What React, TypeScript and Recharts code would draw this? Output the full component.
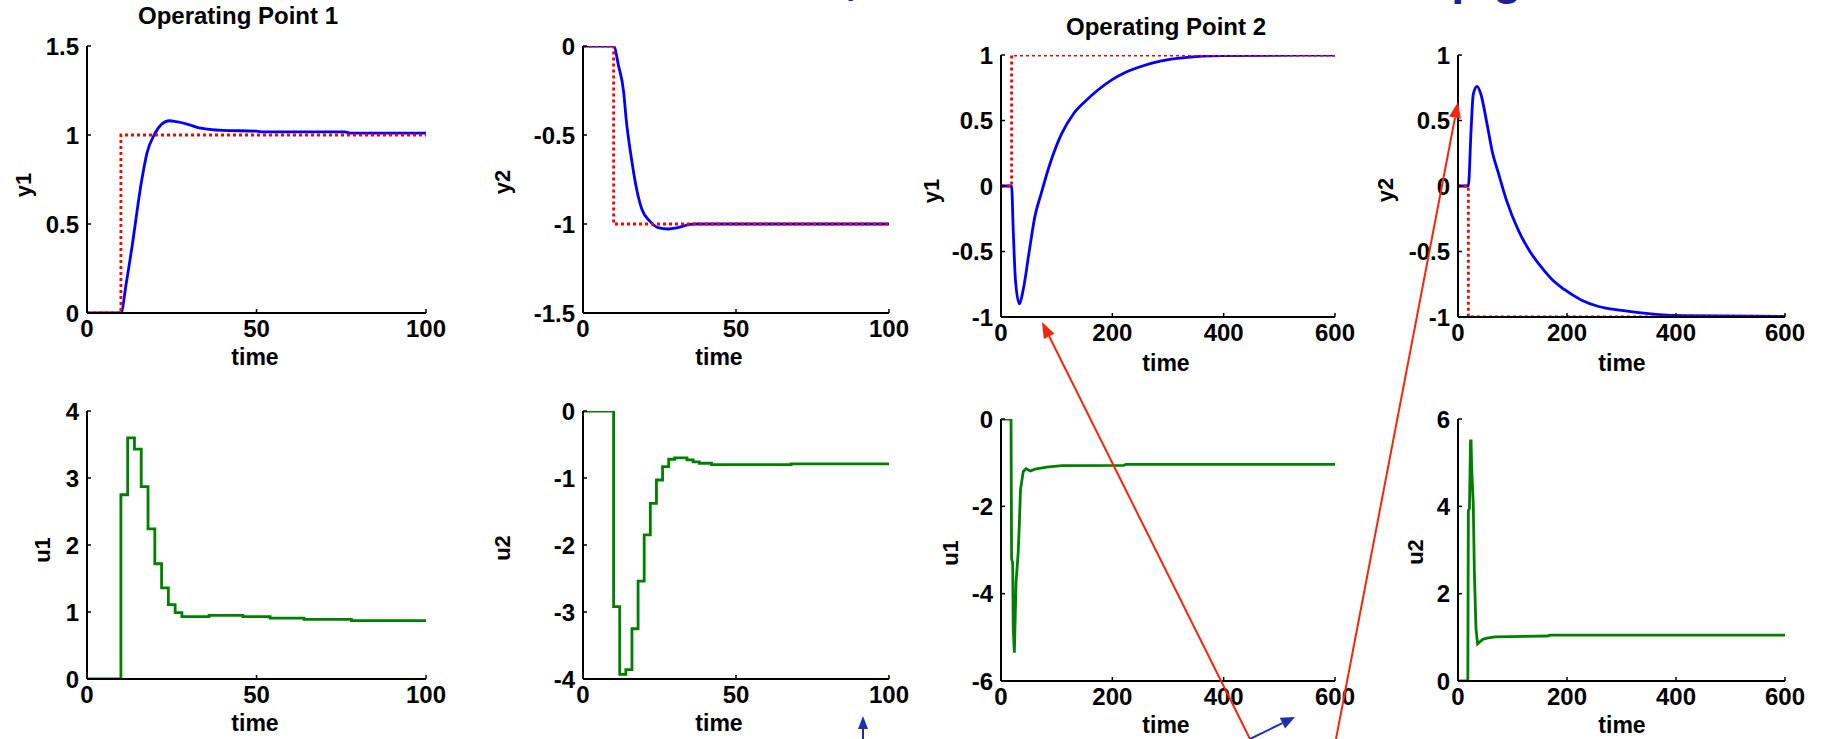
import { LineChart, Line, XAxis, YAxis } from "recharts";

const FONT = "'Liberation Sans', Arial, Helvetica, sans-serif";
const BLUE = "#0000ff";
const RED = "#ff0000";
const GREEN = "#007f00";

// ---- Operating Point 1 (time 0..100)
const op1Y1Time = [0, 10, 11.6, 13.3, 16, 17.7, 19.8, 22, 24.3, 26.3, 29.8, 33, 40, 50, 52, 76, 78, 100];
const op1Y1 = [0, 0, 0.17, 0.375, 0.73, 0.9, 1.0, 1.06, 1.08, 1.075, 1.06, 1.04, 1.026, 1.022, 1.017, 1.017, 1.01, 1.01];
const op1Y2Time = [0, 10, 11.6, 13.3, 14.1, 15.9, 17.6, 19.3, 21.9, 24.5, 27.9, 30.5, 33, 36.5, 100];
const op1Y2 = [0, 0, -0.11, -0.26, -0.41, -0.64, -0.81, -0.92, -0.985, -1.02, -1.028, -1.022, -1.01, -1.0, -1.0];
const op1RefTime = [0, 10, 100];
const op1Ref1 = [0, 1, 1];
const op1Ref2 = [0, -1, -1];
const op1U1Time = [0, 10, 12, 14, 16, 18, 20, 22, 24, 26, 28, 36, 46, 54, 64, 78, 100];
const op1U1 = [0, 2.75, 3.6, 3.43, 2.87, 2.24, 1.72, 1.36, 1.11, 0.99, 0.93, 0.95, 0.93, 0.91, 0.89, 0.87, 0.87];
const op1U2Time = [0, 10, 12, 14, 16, 18, 20, 22, 24, 26, 28, 30, 34, 36, 38, 42, 68, 100];
const op1U2 = [0, -2.92, -3.93, -3.86, -3.25, -2.54, -1.85, -1.38, -1.03, -0.83, -0.72, -0.7, -0.73, -0.76, -0.78, -0.8, -0.79, -0.79];

// ---- Operating Point 2 (time 0..600)
const op2Y1Time = [0, 19, 22, 26, 33, 40, 51, 61, 72, 88, 109, 130, 151, 172, 199, 225, 257, 288, 330, 399, 600];
const op2Y1 = [0, 0, -0.34, -0.72, -0.9, -0.79, -0.49, -0.23, -0.06, 0.17, 0.4, 0.55, 0.645, 0.725, 0.81, 0.87, 0.92, 0.955, 0.98, 0.995, 1.0];
const op2Y2Time = [0, 19, 24, 28, 35, 42, 53, 63, 74, 89, 111, 132, 153, 174, 195, 226, 258, 300, 363, 416, 600];
const op2Y2 = [0, 0, 0.43, 0.7, 0.76, 0.7, 0.48, 0.26, 0.1, -0.11, -0.34, -0.5, -0.62, -0.72, -0.79, -0.87, -0.92, -0.95, -0.98, -0.99, -0.995];
const op2RefTime = [0, 19, 600];
const op2Ref1 = [0, 1, 1];
const op2Ref2 = [0, -1, -1];
const op2U1Time = [0, 18, 19, 21, 22, 24, 27, 31, 33, 35, 40, 45, 53, 61, 82, 109, 220, 225, 600];
const op2U1 = [0, 0, -3.2, -3.3, -4.8, -5.35, -3.75, -3.03, -2.38, -1.62, -1.2, -1.14, -1.19, -1.15, -1.1, -1.07, -1.06, -1.04, -1.04];
const op2U2Time = [0, 18, 19, 21, 23, 24, 25, 28, 30, 33, 36, 45, 53, 68, 163, 170, 600];
const op2U2 = [0, 0, 3.9, 3.95, 5.5, 5.5, 4.9, 4.05, 2.5, 1.2, 0.85, 0.95, 0.98, 1.01, 1.03, 1.05, 1.05];

const zip = (t: number[], v: number[]) => t.map((x, i) => ({ t: x, v: v[i] }));

// plot boxes: left, top, width, height (page pixels)
const PL = 80, PT = 14, PR = 40, PB = 44;

const panels = [
  { box: [87, 46, 339, 267], xMax: 100, xTicks: [0, 50, 100], yDomain: [0, 1.5], yTicks: [0, 0.5, 1, 1.5],
    series: [{ d: zip(op1Y1Time, op1Y1), c: BLUE, smooth: true }, { d: zip(op1RefTime, op1Ref1), c: RED, step: true, dot: true }] },
  { box: [583, 46, 306, 267], xMax: 100, xTicks: [0, 50, 100], yDomain: [-1.5, 0], yTicks: [-1.5, -1, -0.5, 0],
    series: [{ d: zip(op1Y2Time, op1Y2), c: BLUE, smooth: true }, { d: zip(op1RefTime, op1Ref2), c: RED, step: true, dot: true }] },
  { box: [1001, 55, 334, 262], xMax: 600, xTicks: [0, 200, 400, 600], yDomain: [-1, 1], yTicks: [-1, -0.5, 0, 0.5, 1],
    series: [{ d: zip(op2Y1Time, op2Y1), c: BLUE, smooth: true }, { d: zip(op2RefTime, op2Ref1), c: RED, step: true, dot: true }] },
  { box: [1458, 55, 327, 262], xMax: 600, xTicks: [0, 200, 400, 600], yDomain: [-1, 1], yTicks: [-1, -0.5, 0, 0.5, 1],
    series: [{ d: zip(op2Y2Time, op2Y2), c: BLUE, smooth: true }, { d: zip(op2RefTime, op2Ref2), c: RED, step: true, dot: true }] },
  { box: [87, 411, 339, 268], xMax: 100, xTicks: [0, 50, 100], yDomain: [0, 4], yTicks: [0, 1, 2, 3, 4],
    series: [{ d: zip(op1U1Time, op1U1), c: GREEN, step: true }] },
  { box: [583, 411, 306, 268], xMax: 100, xTicks: [0, 50, 100], yDomain: [-4, 0], yTicks: [-4, -3, -2, -1, 0],
    series: [{ d: zip(op1U2Time, op1U2), c: GREEN, step: true }] },
  { box: [1001, 419, 334, 262], xMax: 600, xTicks: [0, 200, 400, 600], yDomain: [-6, 0], yTicks: [-6, -4, -2, 0],
    series: [{ d: zip(op2U1Time, op2U1), c: GREEN }] },
  { box: [1458, 419, 327, 262], xMax: 600, xTicks: [0, 200, 400, 600], yDomain: [0, 6], yTicks: [0, 2, 4, 6],
    series: [{ d: zip(op2U2Time, op2U2), c: GREEN }] },
];

// axis labels: text, baseline x, centre y
const yLabels = [
  ["y1", 31, 185], ["y2", 510, 182], ["y1", 939, 191], ["y2", 1393, 190],
  ["u1", 50, 550], ["u2", 510, 548], ["u1", 958, 553], ["u2", 1423, 552],
];
// "time" labels: centre x, baseline y
const xLabels = [[255, 365], [719, 365], [1166, 371], [1622, 371], [255, 731], [719, 731], [1166, 733], [1622, 733]];

const Panel = ({ p }: any) => {
  const [L, T, W, H] = p.box;
  const tickFont = { fill: "#000", fontSize: 24, fontWeight: 700, fontFamily: FONT };
  const axisLine = { stroke: "#000", strokeWidth: 2 };
  const tickLine = { stroke: "#000", strokeWidth: 1.5 };
  return (
    <div style={{ position: "absolute", left: L - PL, top: T - PT }}>
      <LineChart width={W + PL + PR} height={H + PT + PB} margin={{ top: PT, right: PR, bottom: 0, left: 0 }}>
        <XAxis dataKey="t" type="number" domain={[0, p.xMax]} ticks={p.xTicks} interval={0} height={PB}
          allowDataOverflow tickSize={-4} tickMargin={11} axisLine={axisLine} tickLine={tickLine} tick={tickFont} />
        <XAxis xAxisId="top" orientation="top" type="number" domain={[0, p.xMax]} ticks={p.xTicks} interval={0}
          height={0} tick={false} tickSize={-4} axisLine={axisLine} tickLine={tickLine} />
        <YAxis type="number" domain={p.yDomain} ticks={p.yTicks} interval={0} width={PL} allowDataOverflow
          tickSize={-4} tickMargin={12} axisLine={axisLine} tickLine={tickLine} tick={tickFont} />
        <YAxis yAxisId="right" orientation="right" type="number" domain={p.yDomain} ticks={p.yTicks} interval={0}
          width={0} tick={false} tickSize={-4} axisLine={axisLine} tickLine={tickLine} />
        {p.series.map((s: any, i: number) => (
          <Line key={i} data={s.d} dataKey="v" type={s.step ? "stepAfter" : s.smooth ? "monotone" : "linear"}
            stroke={s.c} strokeWidth={2.8} strokeDasharray={s.dot ? "3 3" : undefined} dot={false}
            activeDot={false} isAnimationActive={false} />
        ))}
      </LineChart>
    </div>
  );
};

const arrowHead = (x0: number, y0: number, x1: number, y1: number, len: number, hw: number) => {
  const d = Math.hypot(x1 - x0, y1 - y0);
  const ux = (x1 - x0) / d, uy = (y1 - y0) / d;
  const bx = x1 - ux * len, by = y1 - uy * len;
  return { bx, by, pts: `${x1},${y1} ${bx - uy * hw},${by + ux * hw} ${bx + uy * hw},${by - ux * hw}` };
};

// annotation arrows: from, tip, colour
const arrows = [
  { from: [1250, 739], to: [1042, 322], c: "#f5260a", len: 16, hw: 6 },
  { from: [1336, 739], to: [1458, 102], c: "#f5260a", len: 16, hw: 6 },
  { from: [863, 745], to: [863, 716], c: "#1b2fb0", len: 13, hw: 5 },
  { from: [1250, 739], to: [1295, 717], c: "#1b2fb0", len: 14, hw: 6 },
];

export default function App() {
  return (
    <div style={{ position: "absolute", left: 0, top: 0, width: 1829, height: 739, overflow: "hidden", background: "#fff" }}>
      {panels.map((p, i) => <Panel key={i} p={p} />)}
      <svg width={1829} height={739} style={{ position: "absolute", left: 0, top: 0, pointerEvents: "none" }}
        fontFamily={FONT} fontWeight={700}>
        <text y={-6} fontSize={47} fill="#201c9c">
          <tspan x={858} textAnchor="end">Decentralized Control,</tspan>
          <tspan x={1480} textAnchor="end">Effect of the Loop</tspan>
          <tspan x={1493} textAnchor="start">gain</tspan>
        </text>
        <text x={238} y={24} fontSize={24} textAnchor="middle" fill="#000">Operating Point 1</text>
        <text x={1166} y={35} fontSize={24} textAnchor="middle" fill="#000">Operating Point 2</text>
        {yLabels.map(([t, x, y], i) => (
          <text key={i} x={x as number} y={y as number} fontSize={22} textAnchor="middle" fill="#000"
            transform={`rotate(-90 ${x} ${y})`}>{t}</text>
        ))}
        {xLabels.map(([x, y], i) => (
          <text key={i} x={x} y={y} fontSize={23} textAnchor="middle" fill="#000">time</text>
        ))}
        {arrows.map((a, i) => {
          const h = arrowHead(a.from[0], a.from[1], a.to[0], a.to[1], a.len, a.hw);
          return (
            <g key={i}>
              <line x1={a.from[0]} y1={a.from[1]} x2={h.bx} y2={h.by} stroke={a.c} strokeWidth={2} />
              <polygon points={h.pts} fill={a.c} />
            </g>
          );
        })}
      </svg>
    </div>
  );
}
